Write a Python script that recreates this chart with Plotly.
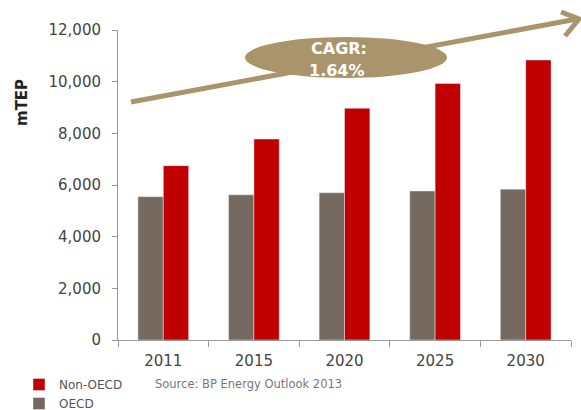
import plotly.graph_objects as go

years = ["2011", "2015", "2020", "2025", "2030"]
oecd = [5550, 5620, 5700, 5770, 5840]
non_oecd = [6750, 7780, 8970, 9930, 10840]
y_ticks = [0, 2000, 4000, 6000, 8000, 10000, 12000]
y_tick_labels = ["0", "2,000", "4,000", "6,000", "8,000", "10,000", "12,000"]

W, H = 581, 410
L, R, T, B = 118, 10, 30, 70
pw, ph = W - L - R, H - T - B

def px(x):
    return (x - L) / pw

def py(y):
    return (H - B - y) / ph

tan = "#aa946c"
font = "DejaVu Sans"

fig = go.Figure()
fig.add_trace(go.Bar(name="OECD", x=years, y=oecd, marker_color="#76695f"))
fig.add_trace(go.Bar(name="Non-OECD", x=years, y=non_oecd, marker_color="#c00000"))

# Arrow line and chevron head
fig.add_shape(type="line", xref="paper", yref="paper",
              x0=px(131), y0=py(102), x1=px(577), y1=py(19),
              line=dict(color=tan, width=5))
fig.add_shape(type="path", xref="paper", yref="paper",
              path=f"M {px(561)} {py(12)} L {px(579)} {py(19)} L {px(565)} {py(36)}",
              line=dict(color=tan, width=5))
# Ellipse bubble
fig.add_shape(type="circle", xref="paper", yref="paper",
              x0=px(245), x1=px(447), y0=py(78), y1=py(37),
              fillcolor=tan, line=dict(color=tan, width=0))

fig.add_annotation(xref="paper", yref="paper", x=px(309), y=py(48),
                   xanchor="left", yanchor="middle", text="<b>CAGR:</b>", showarrow=False,
                   font=dict(family=font, size=16, color="white"))
fig.add_annotation(xref="paper", yref="paper", x=px(307), y=py(70),
                   xanchor="left", yanchor="middle", text="<b>1.64%</b>", showarrow=False,
                   font=dict(family=font, size=16, color="white"))

fig.add_annotation(xref="paper", yref="paper", x=px(22), y=py(103),
                   xanchor="center", yanchor="middle",
                   text="<b>mTEP</b>", textangle=-90, showarrow=False,
                   font=dict(family=font, size=15, color="#222222"))

fig.add_annotation(xref="paper", yref="paper", x=px(153), y=py(384),
                   xanchor="left", yanchor="middle", text="Source: BP Energy Outlook 2013",
                   showarrow=False, font=dict(family=font, size=11.5, color="#777777"))

fig.update_layout(
    width=W, height=H,
    margin=dict(l=L, r=R, t=T, b=B, autoexpand=False),
    paper_bgcolor="white", plot_bgcolor="white",
    barmode="group", bargap=0.44, bargroupgap=0,
    font=dict(family=font, color="#444444"),
    showlegend=True,
    legend=dict(x=px(19), y=py(370), xanchor="left", yanchor="top",
                traceorder="reversed", orientation="v",
                font=dict(family=font, size=12, color="#555555"),
                bgcolor="rgba(0,0,0,0)", tracegroupgap=0),
)
fig.update_xaxes(showline=True, linecolor="#999999", linewidth=1,
                 ticks="outside", tickson="boundaries", ticklen=6, tickcolor="#999999",
                 tickfont=dict(family=font, size=15, color="#444444"),
                 showgrid=False, ticklabelstandoff=7)
fig.update_yaxes(range=[0, 12000], tickvals=y_ticks, ticktext=y_tick_labels,
                 showline=True, linecolor="#999999", linewidth=1,
                 ticks="outside", ticklen=5, tickcolor="#999999",
                 tickfont=dict(family=font, size=15, color="#444444"),
                 showgrid=False, zeroline=False, ticklabelstandoff=8)

fig.write_html("out.html", config={"displayModeBar": False},
               post_script="document.body.style.margin='0';document.body.style.padding='0';document.body.style.overflow='hidden';")
